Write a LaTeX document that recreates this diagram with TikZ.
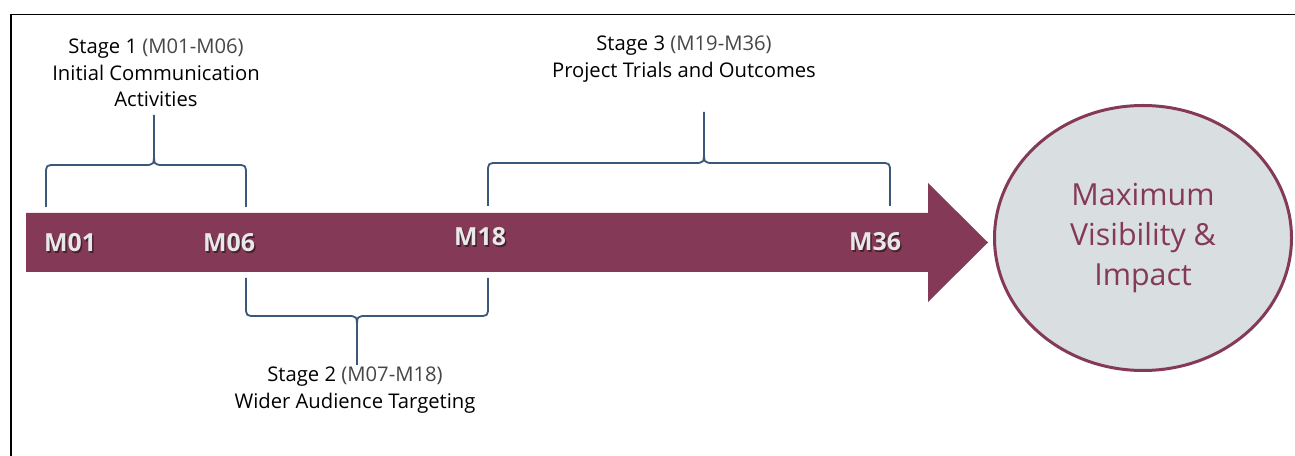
\documentclass[tikz,border=0pt]{standalone}
\usepackage{fontspec}
\setmainfont{Open Sans}
\usetikzlibrary{shapes.geometric}
\definecolor{maroon}{RGB}{132,58,86}
\definecolor{ellfill}{RGB}{217,222,225}
\definecolor{bracec}{RGB}{59,88,122}
\definecolor{labgray}{RGB}{232,232,232}
\definecolor{pargray}{RGB}{70,70,70}
\begin{document}
\begin{tikzpicture}[x=1bp,y=-1bp,
  bracepath/.style={draw=bracec,line width=1.8bp,line join=round},
  stagetext/.style={align=center,font=\fontsize{20.3}{26.7}\selectfont,text=black,inner sep=0},
  mlabel/.style={font=\fontsize{25}{28}\selectfont\bfseries,text=labgray,inner sep=0},
  mshadow/.style={font=\fontsize{25}{28}\selectfont\bfseries,text=black,opacity=0.45,inner sep=0}]
\useasboundingbox (0,0) rectangle (1295,456);
% frame
\draw[line width=1.4bp] (11,456) -- (11,14.5) -- (1295,14.5);
% arrow
\fill[maroon] (26,213) -- (928,213) -- (928,183) -- (988,242.5) -- (928,302) -- (928,272) -- (26,272) -- cycle;
% ellipse
\node[ellipse,draw=maroon,fill=ellfill,line width=3bp,minimum width=297bp,minimum height=265bp,
  align=center,text=maroon,font=\fontsize{30.5}{40.5}\selectfont] (goal) at (1143,238) {Maximum\\Visibility \&\\Impact};
% milestone labels
\foreach \n/\x/\y in {m01/70/243,m06/229/243,m18/480/237,m36/875/242}{
  \node[mshadow] at (\x+1.5,\y+1.5) {\MakeUppercase{\n}};
  \node[mlabel] (\n) at (\x,\y) {\MakeUppercase{\n}};
}
% brace 1 (above)
\coordinate (b1l) at (46,207); \coordinate (b1r) at (246,207); \coordinate (b1t) at (154,115);
\draw[bracepath] (b1l) -- (46,175) .. controls (46,165) .. (56,165) -- (144,165) .. controls (154,165) .. (154,152) -- (b1t)
  (154,152) .. controls (154,165) .. (164,165) -- (236,165) .. controls (246,165) .. (246,175) -- (b1r);
% brace 3 (above)
\coordinate (b3l) at (488,206); \coordinate (b3r) at (890,206); \coordinate (b3t) at (704,112);
\draw[bracepath] (b3l) -- (488,173) .. controls (488,163) .. (498,163) -- (694,163) .. controls (704,163) .. (704,150) -- (b3t)
  (704,150) .. controls (704,163) .. (714,163) -- (880,163) .. controls (890,163) .. (890,173) -- (b3r);
% brace 2 (below)
\coordinate (b2l) at (246,278); \coordinate (b2r) at (488,278); \coordinate (b2t) at (357,365);
\draw[bracepath] (b2l) -- (246,306) .. controls (246,316) .. (256,316) -- (347,316) .. controls (357,316) .. (357,329) -- (b2t)
  (357,329) .. controls (357,316) .. (367,316) -- (478,316) .. controls (488,316) .. (488,306) -- (b2r);
% stage texts
\node[stagetext] (s1) at (156,73) {Stage 1 \textcolor{pargray}{(M01-M06)}\\Initial Communication\\Activities};
\node[stagetext] (s3) at (684,59) {Stage 3 \textcolor{pargray}{(M19-M36)}\\Project Trials and Outcomes};
\node[stagetext] (s2) at (355,390) {Stage 2 \textcolor{pargray}{(M07-M18)}\\Wider Audience Targeting};
\end{tikzpicture}
\end{document}
